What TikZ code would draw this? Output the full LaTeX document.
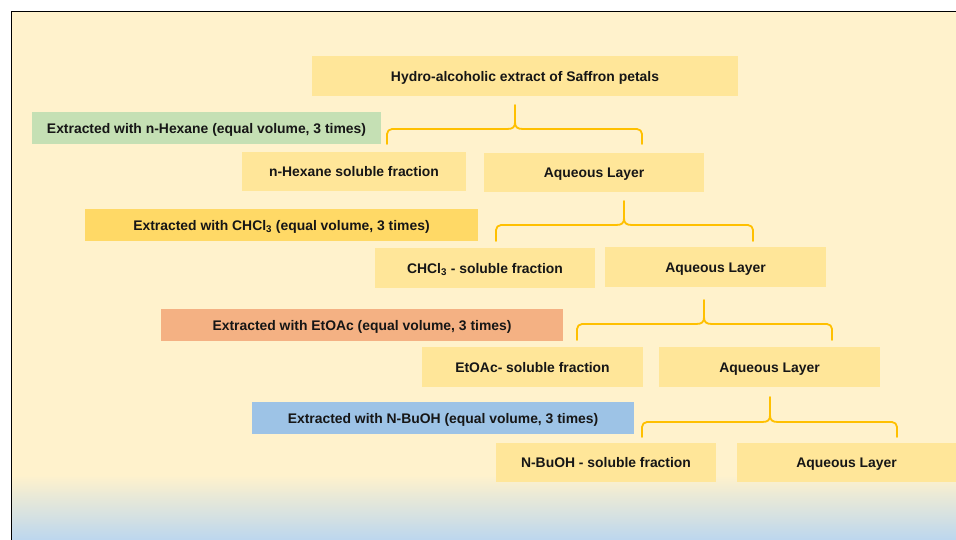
\documentclass[tikz,border=0pt]{standalone}
\usepackage{fontspec}
\setmainfont{Liberation Sans}
\definecolor{bgY}{HTML}{FFF2CC}
\definecolor{bgB}{HTML}{BDD7EE}
\definecolor{boxY}{HTML}{FFE699}
\definecolor{grn}{HTML}{C5E0B4}
\definecolor{gold}{HTML}{FFD966}
\definecolor{org}{HTML}{F4B183}
\definecolor{blu}{HTML}{9DC3E6}
\definecolor{brc}{HTML}{FFC000}
\definecolor{txt}{HTML}{161616}
\newcommand\myBrace[6]{%
  \draw[bracepath, rounded corners=5pt] (#1,#6) -- (#1,#5) -- ({#3-8},#5);
  \draw[bracepath, rounded corners=5pt] (#2,#6) -- (#2,#5) -- ({#3+8},#5);
  \draw[bracepath] ({#3-8},#5) .. controls ({#3-2},#5) and (#3,{#5-2}) .. (#3,{#5-7}) -- (#3,#4);
  \draw[bracepath] ({#3+8},#5) .. controls ({#3+2},#5) and (#3,{#5-2}) .. (#3,{#5-7});
}
\begin{document}
\begin{tikzpicture}[x=1pt,y=-1pt,
  every node/.style={font=\fontsize{13.9}{16}\selectfont\bfseries, text=txt, inner sep=0pt, outer sep=0pt, text height=11.5pt, text depth=1.5pt},
  box/.style={fill=boxY, draw=none, minimum height=39pt},
  stepbar/.style={draw=none, minimum height=32pt},
  bracepath/.style={draw=brc, line width=1.8pt, line cap=round, line join=round}]

\useasboundingbox (0,0) rectangle (956,539);
\fill[white] (0,0) rectangle (956,539);
\fill[bgY] (11.5,11.5) rectangle (956,476);
\shade[top color=bgY, bottom color=bgB] (11.5,475) rectangle (956,539);
\draw[line width=1.8pt, black] (11.5,545) -- (11.5,11.5) -- (962,11.5);

% nodes
\node[box, minimum width=426pt, minimum height=40pt] (top) at (525,76) {Hydro-alcoholic extract of Saffron petals};
\node[stepbar, fill=grn, minimum width=349pt] (s1) at (206.5,128) {Extracted with n-Hexane (equal volume, 3 times)};
\node[box, minimum width=224pt] (hex) at (354,171.5) {n-Hexane soluble fraction};
\node[box, minimum width=220pt] (aq1) at (594,172.5) {Aqueous Layer};

\node[stepbar, fill=gold, minimum width=393pt] (s2) at (281.5,225) {Extracted with CHCl\textsubscript{3} (equal volume, 3 times)};
\node[box, minimum width=220pt, minimum height=40pt] (chf) at (485,268) {CHCl\textsubscript{3} - soluble fraction};
\node[box, minimum width=221pt, minimum height=40pt] (aq2) at (715.5,267) {Aqueous Layer};

\node[stepbar, fill=org, minimum width=402pt] (s3) at (362,325) {Extracted with EtOAc (equal volume, 3 times)};
\node[box, minimum width=221pt, minimum height=40pt] (etf) at (532.5,367) {EtOAc- soluble fraction};
\node[box, minimum width=221pt, minimum height=40pt] (aq3) at (769.5,367) {Aqueous Layer};

\node[stepbar, fill=blu, minimum width=382pt] (s4) at (443,418) {Extracted with N-BuOH (equal volume, 3 times)};
\node[box, minimum width=220pt] (buf) at (606,462.5) {N-BuOH - soluble fraction};
\node[box, minimum width=219pt] (aq4) at (846.5,462.5) {Aqueous Layer};

% braces
\myBrace{387}{642}{515}{105}{129}{144}
\myBrace{496}{753}{624}{201}{225}{241}
\myBrace{577}{832}{704}{300}{324}{340}
\myBrace{642}{897}{770}{397}{422}{437}
\end{tikzpicture}
\end{document}
